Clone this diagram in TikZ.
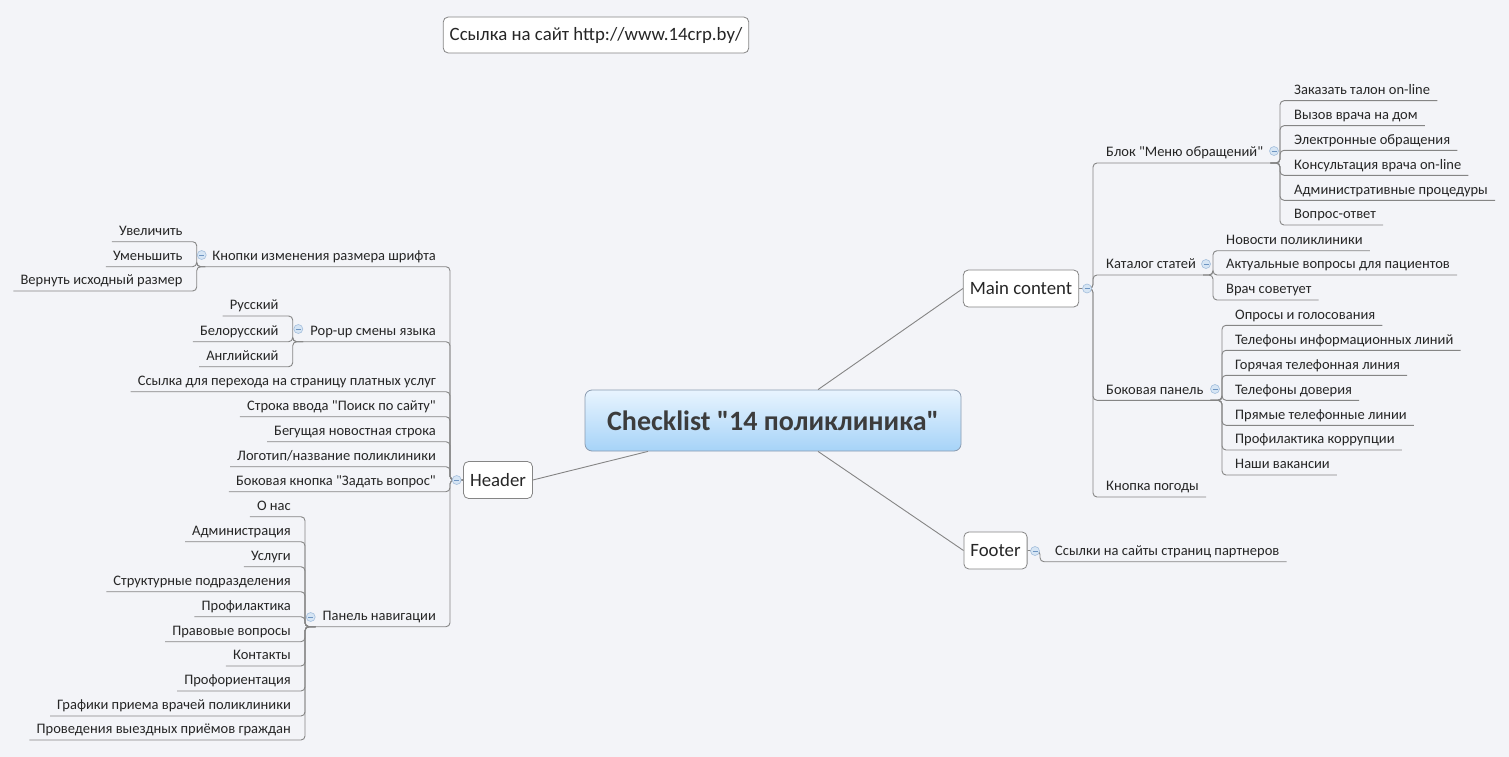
\documentclass[tikz,border=0pt]{standalone}
\usepackage{fontspec}
\setmainfont{Carlito}[Ligatures=TeXOff]
\usetikzlibrary{calc}
\definecolor{bg}{HTML}{F3F4F8}
\definecolor{ln}{HTML}{858585}
\definecolor{txt}{HTML}{262626}
\definecolor{cTop}{HTML}{E8F4FE}
\definecolor{cBot}{HTML}{A6D3F8}
\definecolor{cBorder}{HTML}{8A9BB0}
\definecolor{icF}{HTML}{D6E5F4}
\definecolor{icD}{HTML}{A3BEDC}
\definecolor{icM}{HTML}{6E95C2}
\newcommand\leaffont{\fontsize{14.5}{17}\selectfont}
\newcommand\topicfont{\fontsize{18.8}{22}\selectfont}
\newcommand\centralfont{\fontsize{28}{32}\selectfont\bfseries}
\begin{document}
\begin{tikzpicture}[x=1pt,y=-1pt,
  conn/.style={draw=ln, line width=0.9pt, rounded corners=4pt},
  mainconn/.style={draw=ln, line width=0.9pt},
  leaf/.style={font=\leaffont, text=txt, inner xsep=7pt, inner ysep=3pt, text height=10pt, text depth=3pt},
  leafR/.style={leaf, anchor=south west},
  leafL/.style={leaf, anchor=south east},
  topic/.style={draw=ln, fill=white, rounded corners=5pt, font=\topicfont, text=txt, inner xsep=6.5pt, minimum height=37pt, text height=16pt, text depth=4pt, line width=0.8pt},
  central/.style={draw=cBorder, top color=cTop, bottom color=cBot, rounded corners=7pt, font=\centralfont, text=txt!90, minimum width=376pt, minimum height=61pt, line width=0.8pt},
  icon/.style={circle, draw=icD, fill=icF, minimum size=9pt, inner sep=0pt, line width=0.6pt,
    path picture={\draw[icM, line width=0.8pt] ([xshift=2pt]path picture bounding box.west) -- ([xshift=-2pt]path picture bounding box.east);}}
]
\fill[bg] (0,0) rectangle (1509,757);
\useasboundingbox (0,0) rectangle (1509,757);

% main nodes
\node[central] (c) at (773,420.5) {Checklist "14 поликлиника"};
\node[topic, minimum width=304pt, minimum height=36pt] (link) at (596,35) {Ссылка на сайт http://www.14crp.by/};
\node[topic] (mc) at (1021,288.5) {Main content};
\node[topic] (hd) at (498,480) {Header};
\node[topic] (ft) at (995.5,550.5) {Footer};

% junctions
\coordinate (jmc) at (1093,288.5);
\coordinate (jblk) at (1280,163);
\coordinate (jkat) at (1213,275);
\coordinate (jbok) at (1222,400.3);
\coordinate (jft) at (1040,550.5);
\coordinate (jhd) at (450,480);
\coordinate (jkn) at (196.7,266.7);
\coordinate (jpop) at (292.7,341.7);
\coordinate (jpan) at (305,626.7);

% right side
\node[leafR] (blk) at (1099,163) {Блок "Меню обращений"};
\node[leafR] (kat) at (1099,275) {Каталог статей};
\node[leafR] (bok) at (1099,400.3) {Боковая панель};
\node[leafR] (pog) at (1099,497) {Кнопка погоды};

\node[leafR] (zak) at (1287,100.7) {Заказать талон on-line};
\node[leafR] (vyz) at (1287,125.7) {Вызов врача на дом};
\node[leafR] (ele) at (1287,150.3) {Электронные обращения};
\node[leafR] (kon) at (1287,175.3) {Консультация врача on-line};
\node[leafR] (adm) at (1287,200.3) {Административные процедуры};
\node[leafR] (vop) at (1287,225) {Вопрос-ответ};

\node[leafR] (nov) at (1219,250.7) {Новости поликлиники};
\node[leafR] (akt) at (1219,275) {Актуальные вопросы для пациентов};
\node[leafR] (vra) at (1219,300) {Врач советует};

\node[leafR] (opr) at (1228,325.3) {Опросы и голосования};
\node[leafR] (tin) at (1228,350.3) {Телефоны информационных линий};
\node[leafR] (gor) at (1228,375.3) {Горячая телефонная линия};
\node[leafR] (dov) at (1228,400.3) {Телефоны доверия};
\node[leafR] (pry) at (1228,425.3) {Прямые телефонные линии};
\node[leafR] (prk) at (1228,450) {Профилактика коррупции};
\node[leafR] (vak) at (1228,475) {Наши вакансии};

\node[leafR] (par) at (1048,561.7) {Ссылки на сайты страниц партнеров};

% left side
\node[leafL] (kn) at (443,266.7) {Кнопки изменения размера шрифта};
\node[leafL] (pop) at (443,341.7) {Pop-up смены языка};
\node[leafL] (ssy) at (443,391.7) {Ссылка для перехода на страницу платных услуг};
\node[leafL] (str) at (443,416.7) {Строка ввода "Поиск по сайту"};
\node[leafL] (beg) at (443,441.7) {Бегущая новостная строка};
\node[leafL] (log) at (443,466.7) {Логотип/название поликлиники};
\node[leafL] (bkn) at (443,491.7) {Боковая кнопка "Задать вопрос"};
\node[leafL] (pan) at (443,626.7) {Панель навигации};

\node[leafL] (uve) at (189.7,241.7) {Увеличить};
\node[leafL] (umn) at (189.7,266.7) {Уменьшить};
\node[leafL] (ver) at (189.7,291) {Вернуть исходный размер};

\node[leafL] (rus) at (285.7,316) {Русский};
\node[leafL] (bel) at (285.7,341.7) {Белорусский};
\node[leafL] (ang) at (285.7,366.7) {Английский};

\node[leafL] (onas) at (298,516.7) {О нас};
\node[leafL] (admn) at (298,541.7) {Администрация};
\node[leafL] (usl) at (298,566.7) {Услуги};
\node[leafL] (stru) at (298,591.7) {Структурные подразделения};
\node[leafL] (prof) at (298,616.7) {Профилактика};
\node[leafL] (prav) at (298,641.7) {Правовые вопросы};
\node[leafL] (kont) at (298,666) {Контакты};
\node[leafL] (prfo) at (298,691) {Профориентация};
\node[leafL] (graf) at (298,716) {Графики приема врачей поликлиники};
\node[leafL] (prov) at (298,740) {Проведения выездных приёмов граждан};

% central connectors
\draw[mainconn] ([xshift=45pt]c.north) -- (mc.west);
\draw[mainconn] ([xshift=-125pt]c.south) -- (hd.east);
\draw[mainconn] ([xshift=45pt]c.south) -- (ft.west);

% main content branches
\foreach \n in {blk,kat,bok,pog} \draw[conn] (mc.east) -- (jmc) |- (\n.south east);
\foreach \n in {zak,vyz,ele,kon,adm,vop} \draw[conn] (blk.south east) -- (jblk) |- (\n.south east);
\foreach \n in {nov,akt,vra} \draw[conn] (kat.south east) -- (jkat) |- (\n.south east);
\foreach \n in {opr,tin,gor,dov,pry,prk,vak} \draw[conn] (bok.south east) -- (jbok) |- (\n.south east);
\draw[conn] (ft.east) -- (jft) |- (par.south east);

% header branches
\foreach \n in {kn,pop,ssy,str,beg,log,bkn,pan} \draw[conn] (hd.west) -- (jhd) |- (\n.south west);
\foreach \n in {uve,umn,ver} \draw[conn] (kn.south west) -- (jkn) |- (\n.south west);
\foreach \n in {rus,bel,ang} \draw[conn] (pop.south west) -- (jpop) |- (\n.south west);
\foreach \n in {onas,admn,usl,stru,prof,prav,kont,prfo,graf,prov} \draw[conn] (pan.south west) -- (jpan) |- (\n.south west);

% collapse icons
\node[icon] (imc) at (1087,288.5) {};
\node[icon] (iblk) at (1274,151) {};
\node[icon] (ikat) at (1206,264) {};
\node[icon] (ibok) at (1215,389) {};
\node[icon] (ift) at (1035,551) {};
\node[icon] (ihd) at (456.7,480) {};
\node[icon] (ikn) at (201.7,255) {};
\node[icon] (ipop) at (298.3,329) {};
\node[icon] (ipan) at (310.7,617) {};
\end{tikzpicture}
\end{document}
